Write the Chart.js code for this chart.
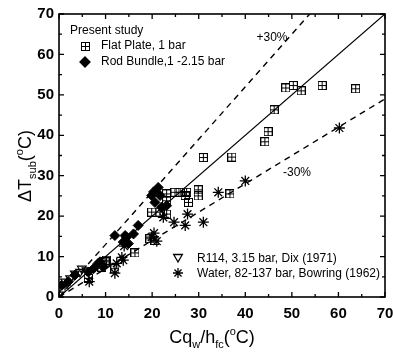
<!DOCTYPE html>
<html><head><meta charset="utf-8">
<script src="https://cdn.jsdelivr.net/npm/chart.js@4.4.1/dist/chart.umd.min.js"></script>
<style>html,body{margin:0;padding:0;background:#fff;}canvas{display:block}</style>
</head><body>
<canvas id="c" width="393" height="358"></canvas>
<script>
// ---- data ----
const axisTicks = [0, 10, 20, 30, 40, 50, 60, 70];

const flatX = [6.3, 9.2, 9.9, 10.2, 12.0, 16.3, 19.5, 20.6, 19.9, 21.7, 23.1, 23.1, 23.1, 24.9, 26.0, 27.4, 27.1, 27.8, 29.9, 29.9, 31.0, 36.7, 37.1, 44.2, 44.9, 46.2, 48.7, 50.3, 52.0, 56.5, 63.7];
const flatY = [4.6, 7.4, 8.7, 9.1, 7.0, 10.9, 14.4, 14.0, 21.0, 21.0, 20.5, 23.8, 25.5, 25.9, 25.9, 25.9, 25.1, 23.4, 25.0, 26.5, 34.5, 25.5, 34.6, 38.4, 40.9, 46.3, 51.7, 52.3, 51.0, 52.3, 51.5];

const rodX = [0.6, 2.0, 3.4, 6.3, 7.4, 8.4, 8.8, 9.5, 12.0, 13.8, 14.2, 14.9, 14.5, 16.0, 17.0, 19.9, 20.3, 20.6, 21.3, 21.7, 22.0, 23.1];
const rodY = [2.9, 3.8, 5.4, 6.2, 7.0, 8.3, 8.7, 7.4, 15.2, 13.6, 15.2, 13.2, 14.8, 15.6, 17.7, 25.1, 26.0, 23.4, 27.1, 25.1, 22.2, 22.6];

const r114X = [0.2, 0.2, 1.3, 2.4, 3.4, 4.5, 4.9, 5.9];
const r114Y = [0.6, 2.5, 3.8, 4.6, 5.8, 6.2, 7.0, 6.6];

const waterX = [1.3, 6.5, 12.0, 12.4, 13.8, 13.5, 14.0, 19.9, 20.4, 21.0, 22.4, 24.7, 27.1, 27.6, 31.0, 34.2, 40.0, 60.2];
const waterY = [2.9, 3.8, 5.9, 8.3, 9.1, 9.8, 12.6, 14.8, 15.8, 13.8, 19.7, 18.5, 17.7, 20.5, 18.5, 25.9, 28.7, 41.8];

const refLineX = [0, 70];
const plus30X = [0, 70 / 1.3];
const minus30Y = [0, 70 * 0.7];

// ---- helpers ----
const pts = (xs, ys) => xs.map((x, i) => ({x, y: ys[i]}));
const FONT = '"Liberation Sans", Arial, sans-serif';

function makeBoxPlus(s) {
  const c = document.createElement('canvas');
  c.width = s; c.height = s;
  const g = c.getContext('2d');
  g.strokeStyle = '#000'; g.lineWidth = 1;
  g.strokeRect(0.5, 0.5, s - 1, s - 1);
  const m = Math.floor(s / 2) + 0.5;
  g.beginPath(); g.moveTo(0.5, m); g.lineTo(s - 0.5, m); g.moveTo(m, 0.5); g.lineTo(m, s - 0.5); g.stroke();
  return c;
}
const boxPlus = makeBoxPlus(9);

function richWidth(ctx, parts, size, w8) {
  let w = 0;
  for (const p of parts) {
    ctx.font = w8 + ' ' + (p.s ? Math.round(size * 0.62) : size) + 'px ' + FONT;
    w += ctx.measureText(p.t).width;
  }
  return w;
}
function drawRich(ctx, parts, x, y, size, w8) {
  let cx = x;
  for (const p of parts) {
    const fs = p.s ? Math.round(size * 0.62) : size;
    ctx.font = w8 + ' ' + fs + 'px ' + FONT;
    let dy = 0;
    if (p.s === 'sub') dy = size * 0.28;
    if (p.s === 'sup') dy = -size * 0.42;
    ctx.fillText(p.t, cx, y + dy);
    cx += ctx.measureText(p.t).width;
  }
}

const decor = {
  id: 'decor',
  afterDraw(chart) {
    const ctx = chart.ctx;
    const a = chart.chartArea;
    const xs = chart.scales.x, ys = chart.scales.y;
    ctx.save();
    ctx.strokeStyle = '#000'; ctx.fillStyle = '#000';
    // frame
    ctx.lineWidth = 1.6;
    ctx.strokeRect(a.left, a.top, a.right - a.left, a.bottom - a.top);
    // inward ticks all four sides
    ctx.lineWidth = 1.3;
    ctx.beginPath();
    for (let v = 0; v <= 70; v += 5) {
      const len = v % 10 === 0 ? 5 : 3;
      const px = xs.getPixelForValue(v), py = ys.getPixelForValue(v);
      ctx.moveTo(px, a.bottom); ctx.lineTo(px, a.bottom - len);
      ctx.moveTo(px, a.top); ctx.lineTo(px, a.top + len);
      ctx.moveTo(a.left, py); ctx.lineTo(a.left + len, py);
      ctx.moveTo(a.right, py); ctx.lineTo(a.right - len, py);
    }
    ctx.stroke();

    // x tick labels (drawn from the x scale so the last one may run off the canvas like the reference)
    ctx.font = 'bold 15px ' + FONT;
    ctx.textAlign = 'center'; ctx.textBaseline = 'middle';
    for (const v of axisTicks) ctx.fillText(String(v), xs.getPixelForValue(v), a.bottom + 17);

    // axis titles
    ctx.textBaseline = 'alphabetic'; ctx.textAlign = 'left';
    const xt = [{t: 'Cq'}, {t: 'w', s: 'sub'}, {t: '/h'}, {t: 'fc', s: 'sub'}, {t: '('}, {t: 'o', s: 'sup'}, {t: 'C)'}];
    const xw = richWidth(ctx, xt, 18, 'normal');
    drawRich(ctx, xt, 212 - xw / 2, 343, 18, 'normal');
    const yt = [{t: '\u0394T'}, {t: 'sub', s: 'sub'}, {t: '('}, {t: 'o', s: 'sup'}, {t: 'C)'}];
    const yw = richWidth(ctx, yt, 18, 'normal');
    ctx.save();
    ctx.translate(31, 166);
    ctx.rotate(-Math.PI / 2);
    drawRich(ctx, yt, -yw / 2, 0, 18, 'normal');
    ctx.restore();

    // line annotations
    ctx.font = '12px ' + FONT;
    ctx.textAlign = 'center'; ctx.textBaseline = 'middle';
    ctx.fillText('+30%', 272, 38);
    ctx.fillText('-30%', 297, 173);

    // upper-left legend
    ctx.textAlign = 'left';
    ctx.fillText('Present study', 70, 31);
    ctx.fillText('Flat Plate, 1 bar', 101, 46);
    ctx.fillText('Rod Bundle,1 -2.15 bar', 101, 62);
    ctx.drawImage(boxPlus, 81, 42);
    Chart.helpers.drawPoint(ctx, {pointStyle: 'rectRot', radius: 5, rotation: 0, borderWidth: 1}, 85, 62);
    ctx.fill();
    // lower-right legend
    ctx.fillText('R114, 3.15 bar, Dix (1971)', 197, 259);
    ctx.fillText('Water, 82-137 bar, Bowring (1962)', 197, 274);
    ctx.fillStyle = '#fff';
    Chart.helpers.drawPoint(ctx, {pointStyle: 'triangle', radius: 5, rotation: 180, borderWidth: 1.2}, 178, 257);
    ctx.fillStyle = '#000';
    Chart.helpers.drawPoint(ctx, {pointStyle: 'star', radius: 5, rotation: 0, borderWidth: 1.2}, 178, 273);
    ctx.restore();
  }
};

const tickFont = {family: FONT, size: 15, weight: 'bold'};

new Chart(document.getElementById('c'), {
  type: 'scatter',
  data: {
    datasets: [
      {type: 'line', data: pts(refLineX, refLineX), borderColor: '#000', borderWidth: 1.2, pointRadius: 0, fill: false},
      {type: 'line', data: pts([0, plus30X[1]], [0, 70]), borderColor: '#000', borderWidth: 1.4, borderDash: [6, 5], pointRadius: 0, fill: false},
      {type: 'line', data: pts([0, 70], minus30Y), borderColor: '#000', borderWidth: 1.4, borderDash: [6, 5], pointRadius: 0, fill: false},
      {label: 'Flat Plate, 1 bar', data: pts(flatX, flatY), pointStyle: boxPlus, pointRadius: 4.5},
      {label: 'Rod Bundle,1 -2.15 bar', data: pts(rodX, rodY), pointStyle: 'rectRot', pointRadius: 5, backgroundColor: '#000', borderColor: '#000', borderWidth: 1},
      {label: 'R114, 3.15 bar, Dix (1971)', data: pts(r114X, r114Y), pointStyle: 'triangle', rotation: 180, pointRadius: 5, backgroundColor: 'rgba(255,255,255,0)', borderColor: '#000', borderWidth: 1.2},
      {label: 'Water, 82-137 bar, Bowring (1962)', data: pts(waterX, waterY), pointStyle: 'star', pointRadius: 5.5, borderColor: '#000', borderWidth: 1.3}
    ]
  },
  options: {
    responsive: false,
    animation: false,
    devicePixelRatio: 1,
    layout: {padding: {left: 0, top: 12, right: 8, bottom: 0}},
    plugins: {legend: {display: false}, tooltip: {enabled: false}},
    scales: {
      x: {
        type: 'linear', min: 0, max: 70,
        afterBuildTicks: s => { s.ticks = axisTicks.map(v => ({value: v})); },
        afterFit: s => { s.height = 61; },
        grid: {display: false, drawTicks: false}, border: {display: false},
        ticks: {display: false}
      },
      y: {
        type: 'linear', min: 0, max: 70,
        afterBuildTicks: s => { s.ticks = axisTicks.map(v => ({value: v})); },
        afterFit: s => { s.width = 59; },
        grid: {display: false, drawTicks: false}, border: {display: false},
        ticks: {font: tickFont, color: '#000', padding: 5}
      }
    }
  },
  plugins: [decor]
});
</script>
</body></html>
